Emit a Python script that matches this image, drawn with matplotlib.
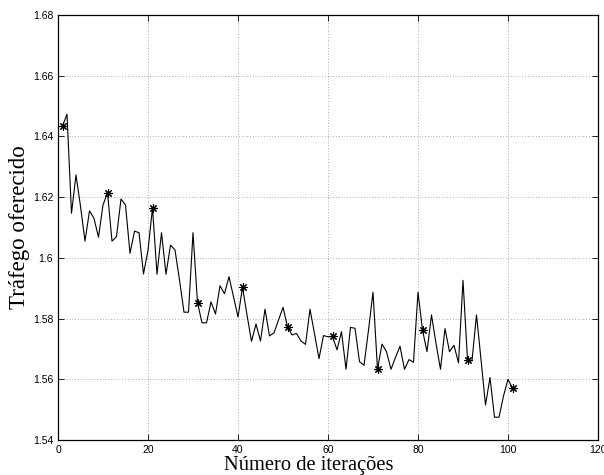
import matplotlib
matplotlib.use("Agg")
import matplotlib.pyplot as plt
from matplotlib.ticker import FuncFormatter

iterations = list(range(1, 102))
traffic = [
    1.6434, 1.6473, 1.6147, 1.6273, 1.6170, 1.6055, 1.6155, 1.6130, 1.6068, 1.6174,
    1.6215, 1.6055, 1.6070, 1.6194, 1.6174, 1.6015, 1.6088, 1.6083, 1.5947, 1.6025,
    1.6165, 1.5946, 1.6083, 1.5946, 1.6042, 1.6026, 1.5927, 1.5821, 1.5821, 1.6083,
    1.5852, 1.5786, 1.5786, 1.5855, 1.5815, 1.5908, 1.5882, 1.5938, 1.5872, 1.5805,
    1.5903, 1.5812, 1.5725, 1.5782, 1.5726, 1.5831, 1.5743, 1.5753, 1.5795, 1.5837,
    1.5773, 1.5746, 1.5751, 1.5726, 1.5715, 1.5831, 1.5750, 1.5668, 1.5744, 1.5740,
    1.5741, 1.5697, 1.5757, 1.5633, 1.5771, 1.5768, 1.5658, 1.5646, 1.5762, 1.5887,
    1.5633, 1.5716, 1.5691, 1.5633, 1.5672, 1.5709, 1.5633, 1.5665, 1.5656, 1.5887,
    1.5762, 1.5691, 1.5812, 1.5718, 1.5633, 1.5767, 1.5691, 1.5712, 1.5654, 1.5926,
    1.5665, 1.5661, 1.5812, 1.5665, 1.5515, 1.5606, 1.5475, 1.5475, 1.5545, 1.5600,
    1.5570,
]
marker_every = 10

xticks = [0, 20, 40, 60, 80, 100, 120]
yticks = [1.54, 1.56, 1.58, 1.60, 1.62, 1.64, 1.66, 1.68]
xlabel = "Número de iterações"
ylabel = "Tráfego oferecido"

fig = plt.figure(figsize=(6.04, 4.75), dpi=100)
ax = fig.add_axes([58/604, 1-440/475, (598-58)/604, (440-15)/475])

ax.plot(iterations, traffic, color="black", linewidth=0.8)
ax.plot(iterations[::marker_every], traffic[::marker_every], linestyle="none",
        marker=(8, 2, 0), markersize=6, color="black", markeredgewidth=0.8)

ax.set_xlim(0, 120)
ax.set_ylim(1.54, 1.68)
ax.set_xticks(xticks)
ax.set_yticks(yticks)
ax.yaxis.set_major_formatter(FuncFormatter(lambda v, p: ("%.2f" % v).rstrip("0")))
ax.grid(True, linestyle=(0, (1, 3)), color="black", linewidth=0.5, alpha=0.6)
ax.tick_params(direction="in", top=True, right=True, length=4, width=0.6,
               labelsize=7.5)
for lab in ax.get_xticklabels() + ax.get_yticklabels():
    lab.set_family("Liberation Sans")
for s in ax.spines.values():
    s.set_linewidth(0.9)

ax.set_xlabel(xlabel, family="Liberation Serif", fontsize=14.8)
ax.xaxis.set_label_coords((309 - 58) / 540, -0.038, transform=ax.transAxes)
ax.xaxis.label.set_va("top")
ax.set_ylabel(ylabel, family="Liberation Serif", fontsize=16.5, labelpad=2)

fig.savefig("out.png", dpi=100)
